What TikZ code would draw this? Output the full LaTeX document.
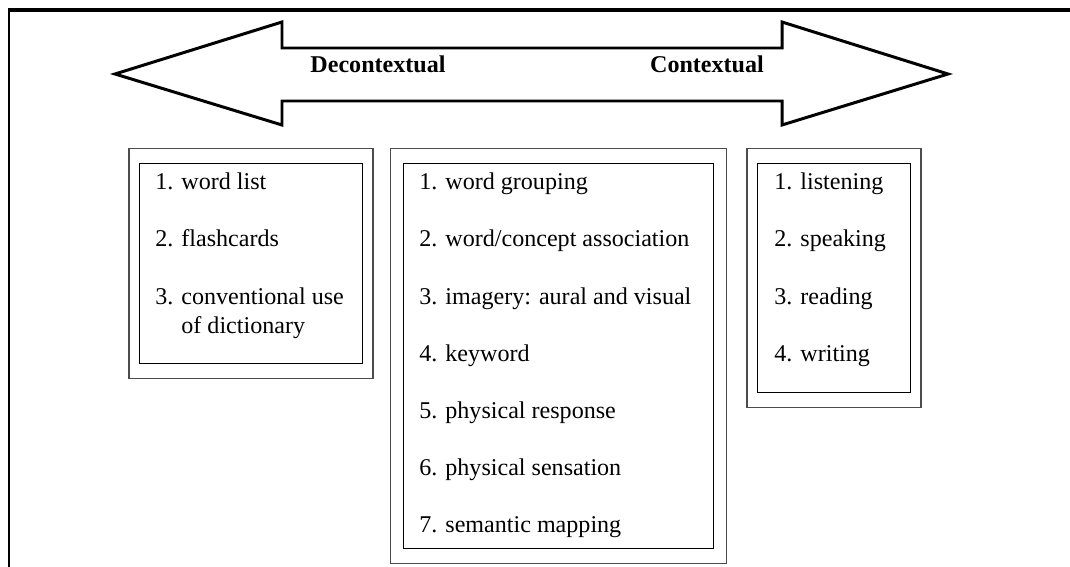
\documentclass[tikz,border=0pt]{standalone}
\usepackage{fontspec}
\setmainfont{Liberation Serif}
\usetikzlibrary{positioning, fit}

\begin{document}
\begin{tikzpicture}[x=0.02cm, y=-0.02cm,
    inbox/.style={draw, line width=0.6pt, anchor=north west, inner sep=0pt},
    outbox/.style={draw=black!70, line width=0.7pt, inner xsep=0.2cm, inner ysep=0.29cm},
    item/.style={anchor=base west, inner sep=0pt, font=\fontsize{13.7}{16}\selectfont},
    headtext/.style={anchor=base, inner sep=0pt, font=\fontsize{13.7}{16}\selectfont\bfseries}]
    \useasboundingbox (0,0) rectangle (1070,567);
    % frame
    \draw[line width=1.3pt] (9,567) -- (9,10);
    \draw[line width=1.8pt] (8,10) -- (1070,10);
    % double arrow
    \draw[line width=1.7pt, line join=miter] (115,74) -- (282,22) -- (282,48) -- (782,48) -- (782,22)
        -- (948,74) -- (782,125) -- (782,101) -- (282,101) -- (282,125) -- cycle;
    \node[headtext] (dec) at (378,73) {Decontextual};
    \node[headtext] (con) at (707,73) {Contextual};

    % boxes
    \node[inbox, minimum width=4.46cm, minimum height=4cm]  (decbox) at (139,163) {};
    \node[inbox, minimum width=6.2cm,  minimum height=7.7cm] (midbox) at (403,163) {};
    \node[inbox, minimum width=3.06cm, minimum height=4.58cm] (conbox) at (757,163) {};
    \node[outbox, fit=(decbox)] (decframe) {};
    \node[outbox, fit=(midbox), inner xsep=0.25cm] (midframe) {};
    \node[outbox, fit=(conbox)] (conframe) {};

    \foreach \t [count=\i] in {word list, flashcards, conventional use}
        \node[item] (lw\i) at (155,{190+57*(\i-1)}) {\i. \t};
    \node[item] (lw4) at (155,333) {\hphantom{3. }of dictionary};

    \foreach \t [count=\i] in {word grouping, word/concept association, imagery: aural and visual,
        keyword, physical response, physical sensation, semantic mapping}
        \node[item] (mg\i) at (419,{190+57*(\i-1)}) {\i. \t};

    \foreach \t [count=\i] in {listening, speaking, reading, writing}
        \node[item] (ls\i) at (774,{190+57*(\i-1)}) {\i. \t};
\end{tikzpicture}
\end{document}
